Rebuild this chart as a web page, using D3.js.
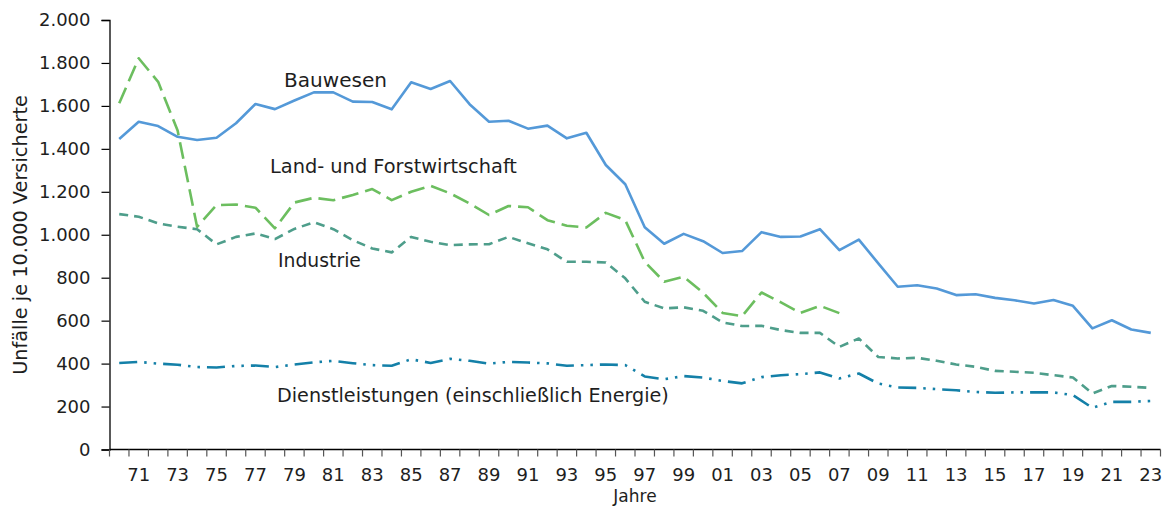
<!DOCTYPE html>
<html><head><meta charset="utf-8">
<script src="https://cdn.jsdelivr.net/npm/d3@7"></script>
<style>
html,body{margin:0;padding:0;background:#fff;}
text{font-family:"DejaVu Sans",sans-serif;fill:#1e1e1e;}
</style></head>
<body>
<svg id="chart" width="1165" height="506"></svg>
<script>
const years = [1970,1971,1972,1973,1974,1975,1976,1977,1978,1979,
  1980,1981,1982,1983,1984,1985,1986,1987,1988,1989,
  1990,1991,1992,1993,1994,1995,1996,1997,1998,1999,
  2000,2001,2002,2003,2004,2005,2006,2007,2008,2009,
  2010,2011,2012,2013,2014,2015,2016,2017,2018,2019,
  2020,2021,2022,2023];
const bauwesen = [1446,1526,1506,1456,1441,1452,1519,1609,1585,1625,
  1663,1663,1620,1618,1584,1710,1679,1716,1608,1526,
  1531,1494,1508,1449,1475,1325,1235,1035,958,1004,
  970,915,924,1012,990,992,1026,928,977,867,
  758,765,750,719,723,706,695,680,696,669,
  564,602,559,543];
const landForst = [1612,1822,1712,1485,1037,1138,1141,1126,1030,1150,
  1172,1161,1185,1213,1161,1200,1228,1193,1146,1092,
  1134,1128,1068,1042,1034,1102,1068,874,781,804,
  730,636,621,731,685,636,669,635,null,null,
  null,null,null,null,null,null,null,null,null,null,
  null,null,null,null];
const industrie = [1096,1084,1053,1037,1026,955,990,1006,980,1027,
  1058,1026,975,936,918,990,967,952,955,956,
  990,960,932,874,874,871,797,688,657,662,
  646,592,575,576,556,543,543,478,517,431,
  424,427,413,396,385,366,362,357,346,335,
  261,296,292,287];
const dienst = [403,408,400,395,384,382,389,391,384,396,
  406,413,402,393,390,420,403,422,413,400,
  408,405,401,390,393,396,393,340,327,342,
  335,319,308,337,346,351,359,331,354,307,
  289,287,281,276,268,264,266,266,266,253,
  194,222,222,226];
const yTicks = [0,200,400,600,800,1000,1200,1400,1600,1800,2000];
const xLabelYears = [1971,1973,1975,1977,1979,1981,1983,1985,1987,1989,1991,1993,1995,1997,1999,2001,2003,2005,2007,2009,2011,2013,2015,2017,2019,2021,2023];
const seriesNames = ["Bauwesen","Land- und Forstwirtschaft","Industrie","Dienstleistungen (einschließlich Energie)"];
const yTitle = "Unfälle je 10.000 Versicherte";
const xTitle = "Jahre";

(function draw(){
const svg = d3.select("#chart");
const mL = 109.5, mR = 1160.5, mT = 20, mB = 449.5;

const x = d3.scaleBand().domain(years).range([mL, mR]).padding(0);
const y = d3.scaleLinear().domain([0, 2000]).range([mB, mT]);
const de = d3.formatLocale({decimal:",", thousands:".", grouping:[3], currency:["","€"]});
const fmt = de.format(",");

// Y axis
const yAxis = svg.append("g").attr("transform", `translate(${mL},0)`)
  .call(d3.axisLeft(y).tickValues(yTicks).tickSize(8).tickPadding(11).tickFormat(fmt));
yAxis.select(".domain").attr("stroke", "#000").attr("stroke-width", 1.3);
yAxis.selectAll(".tick line").attr("stroke", "#000").attr("stroke-width", 1.2);
yAxis.selectAll(".tick text").attr("font-size", 18).attr("font-family", "DejaVu Sans").attr("fill", "#1e1e1e");

// X axis
const xg = svg.append("g");
xg.append("line").attr("x1", mL).attr("x2", mR).attr("y1", mB).attr("y2", mB)
  .attr("stroke", "#000").attr("stroke-width", 1.3);
const boundaries = years.map(d => x(d)).concat([x(years[years.length-1]) + x.bandwidth()]);
xg.selectAll("line.xt").data(boundaries).join("line").attr("class","xt")
  .attr("x1", d => d).attr("x2", d => d).attr("y1", mB).attr("y2", mB + 7)
  .attr("stroke", "#555").attr("stroke-width", 1.2);
xg.selectAll("text.xl").data(xLabelYears).join("text").attr("class","xl")
  .attr("x", d => x(d) + x.bandwidth()/2).attr("y", mB + 31.5)
  .attr("text-anchor", "middle").attr("font-size", 18)
  .text(d => String(d).slice(2));

svg.append("text").attr("x", 635).attr("y", 501.5).attr("text-anchor","middle")
  .attr("font-size", 17).text(xTitle);
const yt = svg.append("text").attr("transform", "translate(27,235) rotate(-90)")
  .attr("text-anchor","middle").attr("font-size", 18).text(yTitle);
const ytw = yt.node().getComputedTextLength();
yt.attr("font-size", Math.min(19.5, 18 * 280 / ytw));

const line = d3.line()
  .defined(d => d[1] != null)
  .x(d => x(d[0]) + x.bandwidth()/2)
  .y(d => y(d[1]));

const series = [
  {vals: bauwesen, color: "#5499D8", dash: null},
  {vals: landForst, color: "#6CBE5F", dash: "17,7"},
  {vals: industrie, color: "#4E9E8B", dash: "9,6"},
  {vals: dienst, color: "#1480A8", dash: "18,7,2.5,7,2.5,7"}
];
series.forEach(s => {
  svg.append("path").datum(years.map((yr,i) => [yr, s.vals[i]]))
    .attr("fill","none").attr("stroke", s.color).attr("stroke-width", 2.6)
    .attr("stroke-linejoin","round").attr("stroke-linecap","butt")
    .attr("stroke-dasharray", s.dash)
    .attr("d", line);
});

// Series labels
const labels = [
  {t: seriesNames[0], x: 284, y: 87, w: 103},
  {t: seriesNames[1], x: 270, y: 173, w: 247},
  {t: seriesNames[2], x: 278, y: 267, w: 83},
  {t: seriesNames[3], x: 277, y: 402, w: 392}
];
labels.forEach(l => {
  const t = svg.append("text").attr("x", l.x).attr("y", l.y).attr("font-size", 19).text(l.t);
  const w = t.node().getComputedTextLength();
  t.attr("font-size", 19 * l.w / w);
});
})();
</script>
</body></html>
